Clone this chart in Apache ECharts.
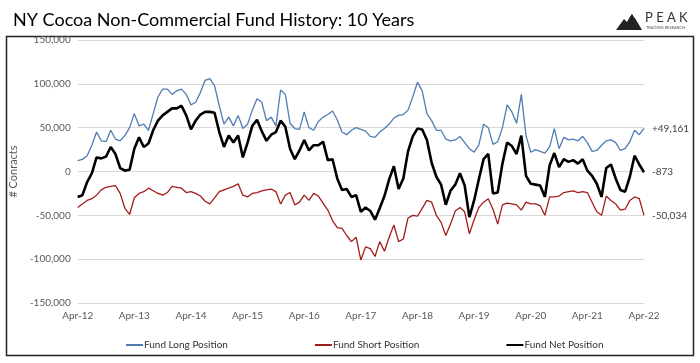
<!DOCTYPE html>
<html>
<head>
<meta charset="utf-8">
<script src="https://cdn.jsdelivr.net/npm/echarts@6/dist/echarts.min.js"></script>
<style>html,body{margin:0;padding:0;background:#fff}#c{width:700px;height:363px}</style>
</head>
<body>
<div id="c"></div>
<script>
// Tick labels shown on the x axis (April of each year)
var tickYears = ['12','13','14','15','16','17','18','19','20','21','22'];
var monthNames = ['Apr','May','Jun','Jul','Aug','Sep','Oct','Nov','Dec','Jan','Feb','Mar'];
// Monthly categories from Apr-12 to Apr-22
var categories = [];
for (var y = 0; y < tickYears.length; y++) {
  for (var k = 0; k < 12; k++) {
    if (y === tickYears.length - 1 && k > 0) break;
    var yy = k < 9 ? tickYears[y] : String(Number(tickYears[y]) + 1);
    categories.push(monthNames[k] + '-' + yy);
  }
}

var fundLong = [12500,13700,18000,30000,45000,35000,34000,47000,37000,35000,41000,50000,
66000,52000,54000,47000,66000,85000,94000,94000,88000,92000,94000,88000,
76000,79000,90000,104000,106000,98000,75000,54000,62000,52000,64000,49000,
54000,70000,83000,79000,58000,62000,52000,93000,88000,55000,49000,48000,
68000,50000,47000,57000,62000,65000,69000,59000,45000,42000,47000,50000,
48000,46000,40000,39000,45000,49000,54000,61000,64000,65000,70000,85000,
102000,92000,66000,58000,47000,47000,37000,35000,36000,40000,33000,26000,
22000,30000,54000,50000,31000,34000,50000,76000,68000,55000,88000,41000,
22000,25000,23000,21000,28000,49000,26000,39000,36000,37000,35000,40000,
33000,23000,24000,30000,35000,36000,33000,24000,26000,34000,47000,42000,
49161];

var fundShort = [-41000,-37000,-33000,-31000,-27000,-21000,-18000,-17000,-16000,-25000,-42000,-49000,
-30000,-25000,-23000,-19000,-22000,-25000,-27000,-24000,-17000,-18000,-19000,-24000,
-23000,-25000,-28000,-34000,-37000,-30000,-23000,-21000,-19000,-17000,-14000,-27000,
-29000,-25000,-24000,-22000,-21000,-20000,-23000,-37000,-27000,-24000,-38000,-35000,
-27000,-33000,-25000,-28000,-36000,-44000,-56000,-64000,-65000,-73000,-80000,-75000,
-101000,-86000,-88000,-97000,-80000,-91000,-75000,-61000,-80000,-77000,-53000,-50000,
-51000,-42000,-33000,-35000,-50000,-58000,-73000,-60000,-45000,-41000,-46000,-71000,
-55000,-41000,-35000,-31000,-43000,-60000,-38000,-36000,-37000,-38000,-44000,-35000,
-37000,-37000,-39000,-50000,-29000,-29000,-28000,-24000,-23000,-22000,-24000,-23000,
-24000,-35000,-46000,-50000,-28000,-33000,-37000,-44000,-43000,-33000,-29000,-31000,
-50034];

var fundNet = [-29000,-27000,-12000,-2000,16000,15000,17000,28000,20000,4000,1000,2000,
26000,39000,28000,32000,47000,58000,64000,68000,72000,72000,75000,64000,
48000,58000,65000,68000,68000,67000,45000,28000,41000,33000,41000,16000,
33000,52000,59000,46000,35000,42000,45000,58000,51000,26000,14000,24000,
36000,24000,30000,30000,34000,13000,14000,-8000,-21000,-20000,-29000,-27000,
-46000,-41000,-45000,-55000,-42000,-28000,-9000,6000,-20000,-8000,23000,40000,
49000,48000,36000,10000,-6000,-15000,-38000,-22000,-15000,-2000,-16000,-52000,
-33000,-9000,14000,20000,-25000,-24000,9000,33000,29000,20000,41000,-5000,
-14000,-15000,-16000,-29000,7000,21000,5000,14000,11000,13000,9000,14000,
1000,-5000,-14000,-29000,4000,8000,-8000,-21000,-23000,-6000,18000,8000,
-873];

var endTexts = ['+49,161', '-873', '-50,034'];

function fmt(v) {
  var s = Math.abs(v).toString().replace(/\B(?=(\d{3})+(?!\d))/g, ',');
  return (v < 0 ? '-' : '') + s;
}

var chart = echarts.init(document.getElementById('c'), null, {renderer: 'canvas'});
var FONT = 'Lato';
chart.setOption({
  animation: false,
  backgroundColor: '#ffffff',
  textStyle: {fontFamily: FONT},
  title: {
    text: 'NY Cocoa Non-Commercial Fund History: 10 Years',
    left: 8, top: 6,
    textStyle: {fontFamily: FONT, fontSize: 18, fontWeight: 'normal', color: '#000'}
  },
  graphic: [
    {type: 'rect', shape: {x: 6.5, y: 36.5, width: 687, height: 319}, style: {fill: 'none', stroke: '#222', lineWidth: 1.5}, z: -1},
    {type: 'polygon', shape: {points: [[616,30],[624,19],[627,22],[632,13],[642,30]]}, style: {fill: '#222'}},
    {type: 'polyline', shape: {points: [[629,17],[632,13],[635,18]]}, style: {stroke: '#fff', lineWidth: 1, fill: 'none'}},
    {type: 'text', left: 645, top: 11, style: {text: 'P E A K', fontFamily: FONT, fontSize: 13, fill: '#333'}},
    {type: 'text', left: 646, top: 26, style: {text: 'TRADING RESEARCH', fontFamily: FONT, fontSize: 4, fill: '#555'}}
  ],
  legend: {
    left: 120, top: 335,
    itemGap: 86,
    itemWidth: 17, itemHeight: 2,
    textStyle: {fontFamily: FONT, fontSize: 10, color: '#333', padding: [0, 0, 0, -4]},
    data: ['Fund Long Position', 'Fund Short Position', 'Fund Net Position']
  },
  grid: {left: 73, right: 56, top: 40, bottom: 60, containLabel: false},
  xAxis: {
    type: 'category',
    data: categories,
    boundaryGap: false,
    axisLine: {show: false, onZero: false},
    axisTick: {show: false},
    splitLine: {show: false},
    axisLabel: {
      interval: 11,
      margin: 8,
      color: '#595959',
      fontSize: 10,
      fontFamily: FONT
    }
  },
  yAxis: {
    type: 'value',
    min: -150000, max: 150000, interval: 50000,
    name: '# Conracts',
    nameLocation: 'middle',
    nameGap: 42,
    nameRotate: 90,
    nameTextStyle: {color: '#595959', fontSize: 11, fontFamily: FONT},
    axisLine: {show: false},
    axisTick: {show: false},
    splitLine: {lineStyle: {color: '#d9d9d9', width: 1}},
    axisLabel: {formatter: fmt, color: '#595959', fontSize: 10, margin: 7, fontFamily: FONT}
  },
  series: [
    {
      name: 'Fund Long Position', type: 'line', data: fundLong, symbol: 'none',
      lineStyle: {color: '#4f7cb3', width: 1.3}, itemStyle: {color: '#4f7cb3'},
      endLabel: {show: true, formatter: endTexts[0], color: '#404040', fontSize: 10, distance: 8, fontFamily: FONT}
    },
    {
      name: 'Fund Short Position', type: 'line', data: fundShort, symbol: 'none',
      lineStyle: {color: '#a21c1c', width: 1.3}, itemStyle: {color: '#a21c1c'},
      endLabel: {show: true, formatter: endTexts[2], color: '#404040', fontSize: 10, distance: 8, fontFamily: FONT}
    },
    {
      name: 'Fund Net Position', type: 'line', data: fundNet, symbol: 'none',
      lineStyle: {color: '#000000', width: 2.6}, itemStyle: {color: '#000000'},
      endLabel: {show: true, formatter: endTexts[1], color: '#404040', fontSize: 10, distance: 8, fontFamily: FONT}
    }
  ]
});
</script>
</body>
</html>
